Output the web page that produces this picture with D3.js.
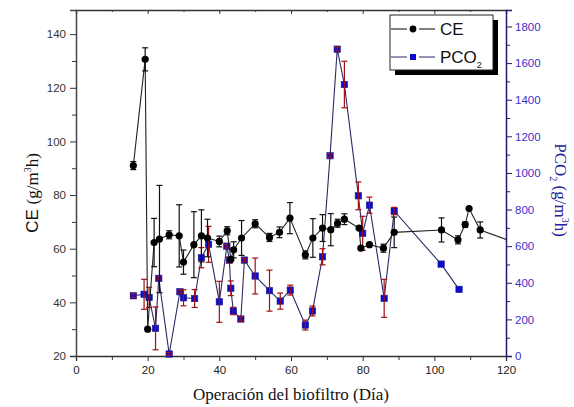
<!DOCTYPE html>
<html>
<head>
<meta charset="utf-8">
<script src="https://cdn.jsdelivr.net/npm/d3@7"></script>
<style>
  body { margin: 0; background: #fff; }
  svg { display: block; }
</style>
</head>
<body>
<svg width="574" height="407"></svg>
<script>
// CE series (left axis, g/m3h)
const ceDay = [16, 19.3, 20, 21.8, 23.3, 26, 28.8, 30, 32.9, 35, 36.7, 40, 42.2, 43.2, 44, 46.2, 50, 54, 56.8, 59.7,
  64, 66.1, 68.8, 71.1, 73, 74.9, 79, 79.5, 81.9, 85.8, 88.8, 102, 106.6, 108.6, 109.7, 112.8, 122];
const ceVal = [91, 130.6, 30, 62.3, 63.6, 65.2, 64.8, 55, 61.5, 64.8, 64, 62.7, 66.7, 56, 59.6, 64, 69.3, 64.2, 66.1, 71.4,
  57.7, 64, 67.7, 67.1, 69.5, 71, 67.7, 60.2, 61.5, 60.2, 66.1, 67, 63.3, 69, 75, 67, 62.5];
const ceErr = [1.5, 4.3, 0, 9, 20, 1.5, 11.6, 4.5, 12.3, 9.7, 7, 2, 1.5, 0, 3, 6.5, 1.5, 1.5, 2, 5.8,
  1.5, 7.2, 5, 6, 1.5, 2, 0, 0, 0, 1.5, 5.7, 4.5, 1.5, 1, 0, 3, 0];

// PCO2 series (right axis, g/m3h)
const pcoDay = [16, 19, 20.4, 22.2, 23.1, 26, 29, 30, 33.1, 35, 37, 40, 42.1, 42.8, 43.2, 43.9, 46, 47, 50, 54,
  57, 59.8, 64, 66, 68.8, 70.9, 72.9, 74.9, 78.8, 80, 81.9, 86, 88.8, 101.9, 106.9];
const pcoVal = [329, 337, 320, 151, 424, 11, 351, 318, 314, 537, 610, 296, 600, 524, 370, 246, 202, 524, 437, 357,
  300, 360, 169, 246, 542, 1094, 1676, 1483, 875, 670, 824, 315, 792, 502, 364];
const pcoErr = [10, 82, 55, 117, 8, 8, 8, 44, 49, 55, 98, 112, 10, 15, 40, 20, 12, 10, 98, 112,
  44, 27, 27, 27, 44, 10, 10, 127, 76, 93, 44, 104, 20, 0, 0];

const xMajor = d3.range(0, 121, 20);
const yLeftMajor = d3.range(20, 141, 20);
const yRightMajor = d3.range(0, 1801, 200);

const svg = d3.select('svg');
const mLeft = 76, mRight = 506, mTop = 10, mBottom = 356;

const x = d3.scaleLinear().domain([0, 120]).range([mLeft, mRight]);
const yL = d3.scaleLinear().domain([20, 149]).range([mBottom, mTop]);
const yR = d3.scaleLinear().domain([0, 1890]).range([mBottom, mTop]);

svg.append('defs').append('clipPath').attr('id', 'plot')
  .append('rect').attr('x', mLeft).attr('y', mTop).attr('width', mRight - mLeft).attr('height', mBottom - mTop);

const tickFont = g => g.selectAll('text')
  .attr('font-family', 'Liberation Sans, Arial, sans-serif')
  .attr('font-size', 11.5);

// bottom axis
svg.append('g').attr('transform', `translate(0,${mBottom})`)
  .call(d3.axisBottom(x).tickValues(d3.range(10, 120, 20)).tickSize(4).tickFormat(''))
  .call(g => g.select('.domain').remove())
  .selectAll('line').attr('stroke', '#333');
svg.append('g').attr('transform', `translate(0,${mBottom})`)
  .call(d3.axisBottom(x).tickValues(xMajor).tickSize(5).tickPadding(5))
  .call(tickFont)
  .call(g => g.selectAll('text').attr('fill', '#222'))
  .call(g => g.select('.domain').attr('stroke', '#333').attr('stroke-width', 1.3))
  .selectAll('line').attr('stroke', '#333');

// top frame with inner ticks
svg.append('g').attr('transform', `translate(0,${mTop})`)
  .call(d3.axisTop(x).tickValues(d3.range(10, 120, 20)).tickSize(-2).tickFormat(''))
  .call(g => g.select('.domain').remove())
  .selectAll('line').attr('stroke', '#333');
svg.append('g').attr('transform', `translate(0,${mTop})`)
  .call(d3.axisTop(x).tickValues(xMajor).tickSize(-4).tickFormat(''))
  .call(g => g.select('.domain').attr('stroke', '#333').attr('stroke-width', 1.3))
  .selectAll('line').attr('stroke', '#333');

// left axis
svg.append('g').attr('transform', `translate(${mLeft},0)`)
  .call(d3.axisLeft(yL).tickValues(d3.range(30, 150, 20)).tickSize(4).tickFormat(''))
  .call(g => g.select('.domain').remove())
  .selectAll('line').attr('stroke', '#333');
svg.append('g').attr('transform', `translate(${mLeft},0)`)
  .call(d3.axisLeft(yL).tickValues(yLeftMajor).tickSize(6).tickPadding(4))
  .call(tickFont)
  .call(g => g.selectAll('text').attr('fill', '#333'))
  .call(g => g.select('.domain').attr('stroke', '#444').attr('stroke-width', 1.5))
  .selectAll('line').attr('stroke', '#333');

// right axis
const navy = '#1c1c6c';
svg.append('g').attr('transform', `translate(${mRight},0)`)
  .call(d3.axisRight(yR).tickValues(d3.range(100, 1890, 200)).tickSize(4).tickFormat(''))
  .call(g => g.select('.domain').remove())
  .selectAll('line').attr('stroke', navy);
svg.append('g').attr('transform', `translate(${mRight},0)`)
  .call(d3.axisRight(yR).tickValues(yRightMajor).tickSize(6).tickPadding(3).tickFormat(d3.format('d')))
  .call(tickFont)
  .call(g => g.selectAll('text').attr('fill', '#4030c8'))
  .call(g => g.select('.domain').attr('stroke', navy).attr('stroke-width', 1.5))
  .selectAll('line').attr('stroke', navy);

// PCO2 series
const pco = pcoDay.map((d, i) => ({ d, v: pcoVal[i], e: pcoErr[i] }));
svg.append('path').datum(pco)
  .attr('fill', 'none').attr('stroke', '#2a2a66').attr('stroke-width', 1.1)
  .attr('d', d3.line().x(p => x(p.d)).y(p => yR(p.v)));
svg.append('g').selectAll('rect').data(pco).join('rect')
  .attr('x', p => x(p.d) - 3.2).attr('y', p => yR(p.v) - 3.2)
  .attr('width', 6.4).attr('height', 6.4)
  .attr('fill', '#0a0ad0').attr('stroke', '#20208a').attr('stroke-width', 0.6);
const pErr = svg.append('g').attr('stroke', '#a01010').attr('stroke-width', 1.2);
pco.filter(p => p.e > 0).forEach(p => {
  const cx = x(p.d);
  pErr.append('line').attr('x1', cx).attr('x2', cx).attr('y1', yR(p.v + p.e)).attr('y2', yR(p.v - p.e));
  [p.v + p.e, p.v - p.e].forEach(v => pErr.append('line')
    .attr('x1', cx - 3).attr('x2', cx + 3).attr('y1', yR(v)).attr('y2', yR(v)));
});

// CE series
const ce = ceDay.map((d, i) => ({ d, v: ceVal[i], e: ceErr[i] }));
const ceG = svg.append('g').attr('clip-path', 'url(#plot)');
ceG.append('path').datum(ce)
  .attr('fill', 'none').attr('stroke', '#222').attr('stroke-width', 1.1)
  .attr('d', d3.line().x(p => x(p.d)).y(p => yL(p.v)));
const cErr = ceG.append('g').attr('stroke', '#111').attr('stroke-width', 1.2);
ce.filter(p => p.e > 0).forEach(p => {
  const cx = x(p.d);
  cErr.append('line').attr('x1', cx).attr('x2', cx).attr('y1', yL(p.v + p.e)).attr('y2', yL(p.v - p.e));
  [p.v + p.e, p.v - p.e].forEach(v => cErr.append('line')
    .attr('x1', cx - 3).attr('x2', cx + 3).attr('y1', yL(v)).attr('y2', yL(v)));
});
ceG.selectAll('circle').data(ce).join('circle')
  .attr('cx', p => x(p.d)).attr('cy', p => yL(p.v)).attr('r', 3.6)
  .attr('fill', '#000');

// legend
const lg = svg.append('g');
lg.append('rect').attr('x', 395).attr('y', 20).attr('width', 103).attr('height', 55).attr('fill', '#000');
lg.append('rect').attr('x', 390).attr('y', 15).attr('width', 103).attr('height', 55)
  .attr('fill', '#fff').attr('stroke', '#222').attr('stroke-width', 1);
const rows = [
  { name: 'CE', y: 29, color: '#000' },
  { name: 'PCO', sub: '2', y: 57, color: '#2a2a66' }
];
rows.forEach((r, i) => {
  lg.append('line').attr('x1', 391).attr('x2', 407).attr('y1', r.y).attr('y2', r.y).attr('stroke', r.color);
  lg.append('line').attr('x1', 419).attr('x2', 435).attr('y1', r.y).attr('y2', r.y).attr('stroke', r.color);
  if (i === 0) lg.append('circle').attr('cx', 413).attr('cy', r.y).attr('r', 3.4).attr('fill', '#000');
  else lg.append('rect').attr('x', 410).attr('y', r.y - 3).attr('width', 6).attr('height', 6).attr('fill', '#0a0ad0');
  const t = lg.append('text').attr('x', 440).attr('y', r.y + 6)
    .attr('font-family', 'Liberation Sans, Arial, sans-serif').attr('font-size', 17).attr('fill', '#111')
    .text(r.name);
  if (r.sub) t.append('tspan').attr('font-size', 9).attr('dy', 5).text(r.sub);
});

// axis titles
const serif = 'Liberation Serif, Times New Roman, serif';
svg.append('text').attr('x', 291).attr('y', 400).attr('text-anchor', 'middle')
  .attr('font-family', serif).attr('font-size', 17).attr('fill', '#111')
  .text('Operación del biofiltro (Día)');

const lt = svg.append('text').attr('transform', 'translate(38,193) rotate(-90)').attr('text-anchor', 'middle')
  .attr('font-size', 17).attr('fill', '#111');
lt.append('tspan').attr('font-family', 'Liberation Sans, Arial, sans-serif').text('CE ');
lt.append('tspan').attr('font-family', serif).text('(g/m');
lt.append('tspan').attr('font-family', serif).attr('font-size', 10).attr('dy', -7).text('3');
lt.append('tspan').attr('font-family', serif).attr('dy', 7).text('h)');

const rt = svg.append('text').attr('transform', 'translate(555,190) rotate(90)').attr('text-anchor', 'middle')
  .attr('font-family', serif).attr('font-size', 17).attr('fill', '#22229a');
rt.append('tspan').text('PCO');
rt.append('tspan').attr('font-size', 10).attr('dy', 5).text('2');
rt.append('tspan').attr('dy', -5).text(' (g/m');
rt.append('tspan').attr('font-size', 10).attr('dy', -7).text('3');
rt.append('tspan').attr('dy', 7).text('h)');
</script>
</body>
</html>
